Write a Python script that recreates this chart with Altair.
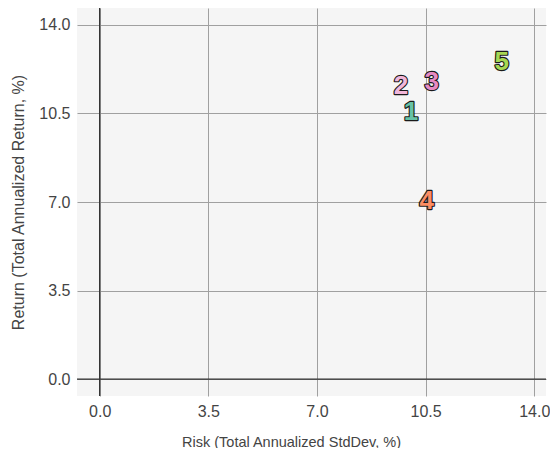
import altair as alt
import pandas as pd

labels = ["1", "2", "3", "4", "5"]
risk = [10.03, 9.71, 10.70, 10.54, 12.95]
ret = [10.55, 11.58, 11.74, 7.04, 12.53]
colors = ["#66c2a5", "#f1b6da", "#e78ac3", "#fc8d62", "#a6d854"]

df = pd.DataFrame({"label": labels, "risk": risk, "ret": ret})

ticks = [0.0, 3.5, 7.0, 10.5, 14.0]
xdom = [-0.73, 14.38]
ydom = [-0.67, 14.67]

xscale = alt.Scale(domain=xdom, nice=False, zero=False)
yscale = alt.Scale(domain=ydom, nice=False, zero=False)

xenc = alt.X("risk:Q", title="Risk (Total Annualized StdDev, %)", scale=xscale,
             axis=alt.Axis(values=ticks, format=".1f", grid=True, domain=False, ticks=False,
                           labelPadding=7, titlePadding=16, titleFontSize=14.5,
                           titleX=214, titleAnchor="middle"))
yenc = alt.Y("ret:Q", title="Return (Total Annualized Return, %)", scale=yscale,
             axis=alt.Axis(values=ticks, format=".1f", grid=True, domain=False, ticks=False,
                           labelPadding=7, titlePadding=12, titleFontSize=16))

zx = pd.DataFrame({"v": [0.0]})
vline = alt.Chart(zx).mark_rule(color="#333333", strokeWidth=1.3).encode(
    x=alt.X("v:Q", scale=xscale))
hline = alt.Chart(zx).mark_rule(color="#333333", strokeWidth=1.3).encode(
    y=alt.Y("v:Q", scale=yscale))

outline = alt.Chart(df).mark_text(fontSize=26, fontWeight="bold", stroke="#1a1a1a",
                                  strokeWidth=2.3, fill="#1a1a1a", font="Liberation Sans",
                                  strokeJoin="round").encode(
    x=xenc, y=yenc, text="label:N")
text = alt.Chart(df).mark_text(fontSize=26, fontWeight="bold",
                               font="Liberation Sans").encode(
    x=xenc, y=yenc, text="label:N",
    color=alt.Color("label:N", scale=alt.Scale(domain=labels, range=colors), legend=None))

chart = alt.layer(vline, hline, outline, text).properties(
    width=469, height=388,
    autosize=alt.AutoSizeParams(type="none"),
    padding={"top": 0, "left": 69, "right": 4, "bottom": 52}
).configure_view(fill="#f5f5f5", stroke=None).configure_axis(
    gridColor="#a0a0a0", gridWidth=1, labelFont="Liberation Sans", titleFont="Liberation Sans",
    labelFontSize=16, labelColor="#444444", titleColor="#444444",
    titleFontWeight="normal")

chart.save("out.html", embed_options={"renderer": "svg", "actions": False})
